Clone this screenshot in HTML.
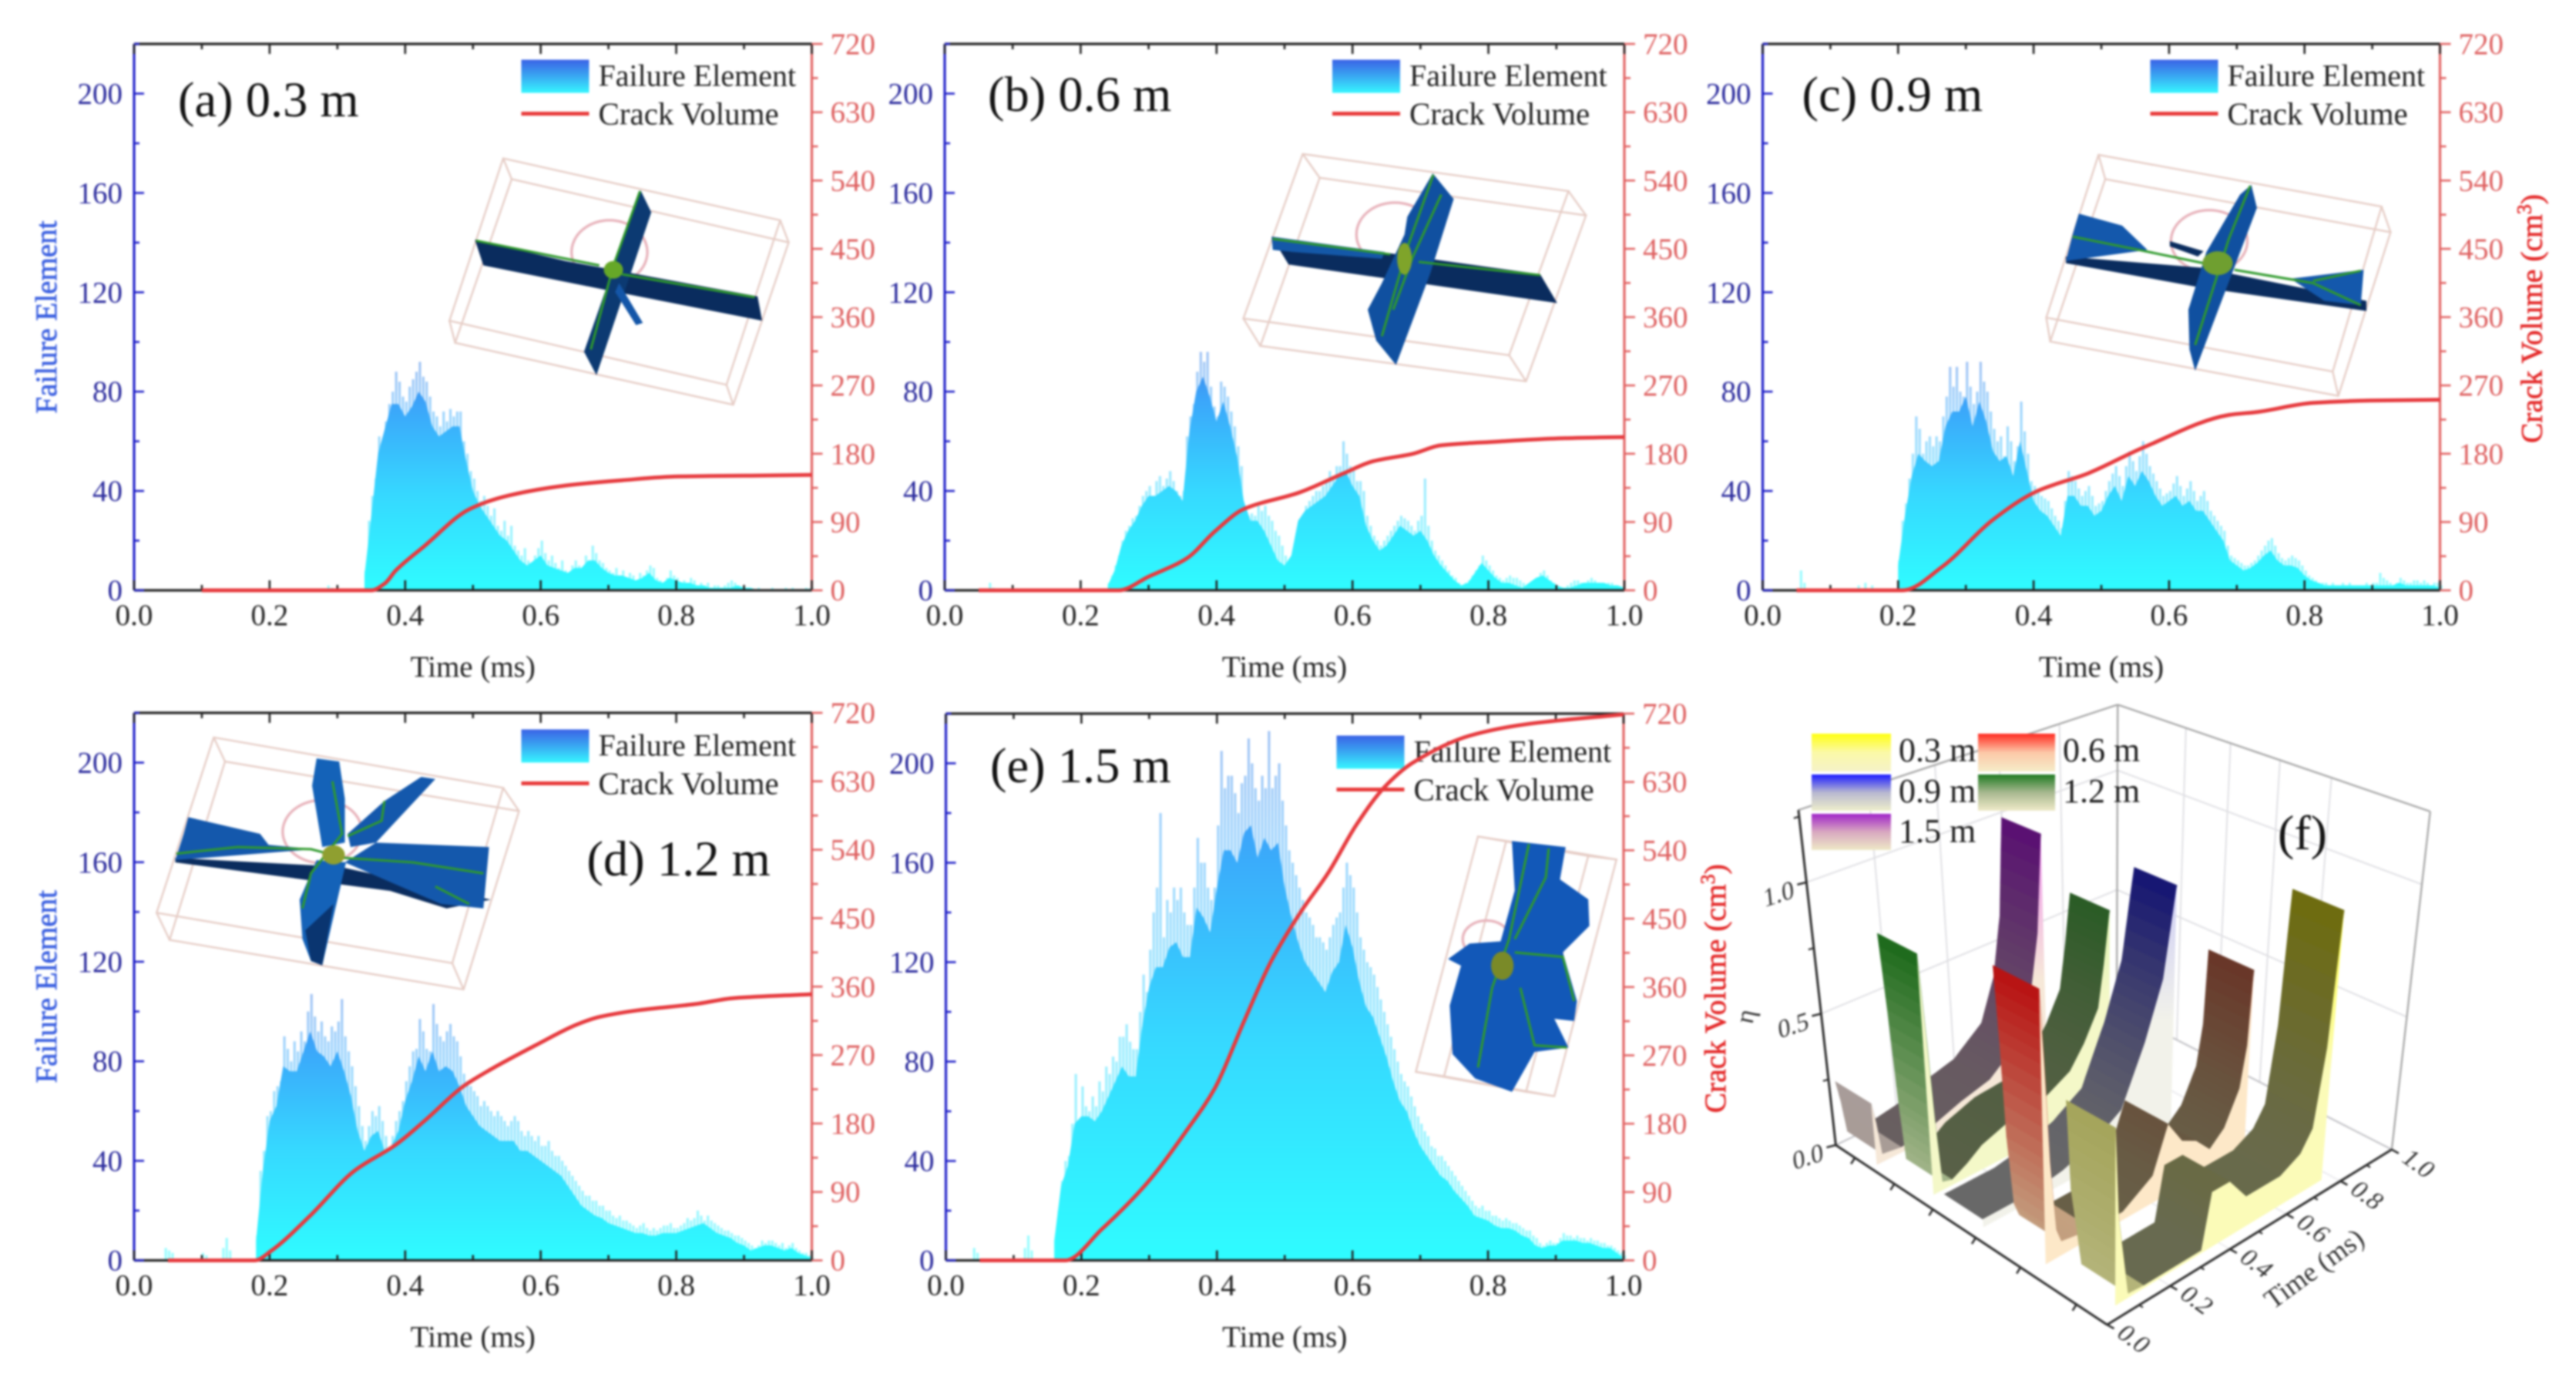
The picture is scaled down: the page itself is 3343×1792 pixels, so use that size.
<!DOCTYPE html>
<html lang="en">
<head>
<meta charset="utf-8">
<title>Failure element and crack volume versus time</title>
<style>
html,body{margin:0;padding:0;background:#fff;}
body{width:3343px;height:1792px;overflow:hidden;}
#figure{display:block;filter:blur(1.3px);font-family:"Liberation Serif",serif;}
.inset *{vector-effect:non-scaling-stroke;}
.wire{fill:none;stroke:#e6cdc6;stroke-width:2.4;}
.arc{fill:none;stroke:#e8b4bc;stroke-width:3.4;}
.vein{fill:none;stroke:#2f9a2c;stroke-width:3;}
</style>
</head>
<body>
<svg id="figure" xmlns="http://www.w3.org/2000/svg" width="3343" height="1792" viewBox="0 0 3343 1792">
<rect x="0" y="0" width="3343" height="1792" fill="#fff"/>
<defs>
<linearGradient id="legendFill" x1="0" y1="0" x2="0" y2="1"><stop offset="0" stop-color="#3a62e6"/><stop offset=".5" stop-color="#39a8f2"/><stop offset="1" stop-color="#36f6ff"/></linearGradient>
<linearGradient id="sw03" x1="0" y1="0" x2="0" y2="1"><stop offset="0" stop-color="#ffff10"/><stop offset=".5" stop-color="#fbf9a8"/><stop offset="1" stop-color="#f5f2c8"/></linearGradient>
<linearGradient id="sw06" x1="0" y1="0" x2="0" y2="1"><stop offset="0" stop-color="#ff2a20"/><stop offset=".5" stop-color="#fcc8a8"/><stop offset="1" stop-color="#f5ecc8"/></linearGradient>
<linearGradient id="sw09" x1="0" y1="0" x2="0" y2="1"><stop offset="0" stop-color="#1c1cff"/><stop offset=".5" stop-color="#b8b8d0"/><stop offset="1" stop-color="#eeeecb"/></linearGradient>
<linearGradient id="sw12" x1="0" y1="0" x2="0" y2="1"><stop offset="0" stop-color="#1f7a22"/><stop offset=".5" stop-color="#a8b890"/><stop offset="1" stop-color="#efeac8"/></linearGradient>
<linearGradient id="sw15" x1="0" y1="0" x2="0" y2="1"><stop offset="0" stop-color="#a024c8"/><stop offset=".5" stop-color="#d8a8c0"/><stop offset="1" stop-color="#eee8c6"/></linearGradient>
</defs>
<g id="panels"></g>

<!-- 3D crack model insets, drawn in crop coordinates -->
<g class="inset" transform="translate(0,0) scale(.7337,.574)">
  <g>
    <polygon class="wire" points="890,358 1380,498 1285,870 795,725"/>
    <polygon class="wire" points="905,405 1395,548 1297,915 805,775"/>
    <path class="wire" d="M890 358L905 405M1380 498L1395 548M1285 870L1297 915M795 725L805 775"/>
    <ellipse class="arc" cx="1078" cy="570" rx="67" ry="72"/>
  </g>
  <polygon fill="#0a2c5e" points="840,542 1000,590 1340,670 1348,725 1070,655 855,600"/>
  <polygon fill="#0c3a72" points="1133,430 1152,480 1055,848 1033,795"/>
  <polygon fill="#1456a8" points="1095,640 1137,730 1125,735 1088,660"/>
  <path class="vein" d="M842 544L1060 600M1100 620L1335 672M1132 432L1085 600L1045 790"/>
  <ellipse cx="1085" cy="610" rx="17" ry="20" fill="#66a828"/>
</g>
<g class="inset" transform="translate(1100,0) scale(.7337,.574)">
  <g>
    <polygon class="wire" points="805,348 1275,432 1170,803 700,720"/>
    <polygon class="wire" points="835,402 1306,487 1200,862 730,782"/>
    <path class="wire" d="M805 348L835 402M1275 432L1306 487M1170 803L1200 862M700 720L730 782"/>
    <ellipse class="arc" cx="968" cy="530" rx="68" ry="72"/>
  </g>
  <polygon fill="#0a2c5e" points="750,535 1000,580 1225,620 1255,685 1010,640 780,598"/>
  <polygon fill="#1458a8" points="750,535 950,570 945,585 790,570 752,565"/>
  <polygon fill="#1050a0" points="1035,392 1072,450 1030,620 970,825 935,770 920,700 945,640 985,530 990,490"/>
  <path class="vein" d="M752 540L960 575M1010 592L1225 622M1036 395L990 560L945 760M1050 440L1000 580L965 700"/>
  <ellipse cx="985" cy="585" rx="13" ry="36" fill="#7fa42a"/>
</g>
<g class="inset" transform="translate(2200,0) scale(.7289,.574)">
  <g>
    <polygon class="wire" points="718,350 1222,467 1135,840 625,718"/>
    <polygon class="wire" points="730,405 1238,525 1145,895 632,772"/>
    <path class="wire" d="M718 350L730 405M1222 467L1238 525M1135 840L1145 895M625 718L632 772"/>
    <ellipse class="arc" cx="915" cy="545" rx="68" ry="70"/>
  </g>
  <polygon fill="#0a2c5e" points="660,580 900,605 1195,680 1195,703 900,650 660,595"/>
  <polygon fill="#1458ac" points="683,483 760,510 805,565 660,590 672,530"/>
  <polygon fill="#1458ac" points="1060,630 1190,610 1185,690 1120,680"/>
  <polygon fill="#1050a0" points="990,418 1000,470 890,838 880,790 878,700 910,570 970,440"/>
  <polygon fill="#0a2c5e" points="845,545 905,568 895,580 845,557"/>
  <path class="vein" d="M672 535L790 565L905 595M960 610L1100 640L1185 690M1185 612L1100 635M988 420L950 540L890 780"/>
  <circle cx="930" cy="595" r="27" fill="#6f9f30"/>
</g>
<g class="inset" transform="translate(0,900) scale(.7337,.5688)">
  <g>
    <polygon class="wire" points="378,100 890,215 800,615 277,500"/>
    <polygon class="wire" points="398,155 918,268 820,675 300,562"/>
    <path class="wire" d="M378 100L398 155M890 215L918 268M800 615L820 675M277 500L300 562"/>
    <ellipse class="arc" cx="570" cy="315" rx="70" ry="72"/>
  </g>
  <polygon fill="#0a2c5e" points="310,375 600,395 868,470 790,490 690,450 600,435 310,385"/>
  <polygon fill="#1458ac" points="333,282 460,320 475,345 555,355 310,380 325,320"/>
  <polygon fill="#1458ac" points="665,340 865,350 855,490 780,480 610,385"/>
  <polygon fill="#1458ac" points="770,195 745,190 680,245 615,320 620,350 665,340"/>
  <polygon fill="#1462b8" points="560,148 600,155 610,240 610,340 570,350 552,210"/>
  <polygon fill="#1462b8" points="560,380 612,385 570,620 550,610 535,560 530,470"/>
  <polygon fill="#0a3570" points="590,480 570,620 550,610 540,540"/>
  <path class="vein" d="M312 365L420 350L550 355L610 375L730 385L855 410M588 200L605 320L550 410L535 490M615 325L675 290L680 245M770 440L830 480"/>
  <ellipse cx="590" cy="368" rx="20" ry="22" fill="#8f9f30"/>
</g>
<g class="inset" transform="translate(1100,880) scale(.7337,.574)">
  <g>
    <polygon class="wire" points="1115,358 1310,402 1200,935 1005,890"/>
    <polygon class="wire" points="1165,368 1360,410 1250,945 1055,900"/>
    <path class="wire" d="M1115 358L1165 368M1310 402L1360 410M1200 935L1250 945M1005 890L1055 900"/>
    <ellipse class="arc" cx="1130" cy="590" rx="42" ry="42"/>
  </g>
  <polygon fill="#1258b8" points="1175,368 1270,382 1260,455 1310,500 1312,560 1265,620 1290,730 1285,775 1250,770 1275,835 1215,845 1175,935 1110,905 1070,850 1065,740 1085,650 1062,635 1100,600 1155,595 1180,480"/>
  <path class="vein" d="M1205 375L1170 590L1140 700L1115 880M1240 385L1235 450L1180 590M1180 620L1265 630L1285 730M1190 700L1215 830L1272 835"/>
  <ellipse cx="1158" cy="650" rx="20" ry="32" fill="#7a8a28"/>
</g>

<!-- panel f legend -->
<g id="legendF" font-size="44" fill="#1c1c1c">
  <rect x="2351" y="952" width="103" height="49" fill="url(#sw03)"/>
  <text x="2464" y="988">0.3 m</text>
  <rect x="2567" y="952" width="100" height="49" fill="url(#sw06)"/>
  <text x="2677" y="988">0.6 m</text>
  <rect x="2351" y="1005" width="103" height="47" fill="url(#sw09)"/>
  <text x="2464" y="1041">0.9 m</text>
  <rect x="2567" y="1005" width="100" height="47" fill="url(#sw12)"/>
  <text x="2677" y="1041">1.2 m</text>
  <rect x="2351" y="1056" width="103" height="47" fill="url(#sw15)"/>
  <text x="2464" y="1093">1.5 m</text>
</g>
<text x="2956" y="1102" font-size="64" fill="#111">(f)</text>
</svg>

<script>
/* ---------- shared axis values ---------- */
const timeTicks = [0, 0.2, 0.4, 0.6, 0.8, 1.0];
const timeMinorTicks = [0.1, 0.3, 0.5, 0.7, 0.9];
const failureTicks = [0, 40, 80, 120, 160, 200];
const failureMinorTicks = [20, 60, 100, 140, 180, 220];
const volumeTicks = [0, 90, 180, 270, 360, 450, 540, 630, 720];
const volumeMinorTicks = [45, 135, 225, 315, 405, 495, 585, 675];
const BIN_PEAK = 0.005;
const BIN_BODY = 0.01;

/* ---------- panel (a) 0.3 m ---------- */
const startA = 0.34;
const peakA = [8,28,38,45,62,60,68,75,80,88,84,78,76,82,85,88,92,86,84,78,72,70,66,72,68,73,70,72,72,60,55,48,45,40,36,38,34,30,33,26,24,28,22,26,18,16,14,17,12,10,14,17,20,15,12,14,11,9,12,8,7,10,12,10,9,14,12,18,15,12,11,9,8,7,9,6,8,5,7,6,4,7,6,8,10,9,5,4,3,5,8,6,5,3,4,2,5,4,2,3,2,3,1,2,2,1,2,3,4,3,2,1,1,1,0,0,1,0,0,0,1,0,0,0,1,0,1,0,0,0,1,0,1];
const bodyA = [6,30,55,65,75,75,70,74,80,76,66,62,64,66,66,52,40,34,30,26,22,20,16,12,10,12,14,10,9,8,7,9,9,12,12,9,7,6,6,5,4,5,7,4,3,5,4,3,3,2,2,1,1,1,1,2,1,1,0,0,0,0,0,0,0,0,1];
const preTimeA = [0.285, 0.29];
const preValueA = [2, 1];
const crackTimeA = [0.1, 0.35, 0.37, 0.386, 0.428, 0.495, 0.553, 0.636, 0.72, 0.803, 0.9, 1.0];
const crackVolumeA = [0, 0, 9, 26, 58, 107, 125, 138, 145, 150, 151, 152];

/* ---------- panel (b) 0.6 m ---------- */
const startB = 0.24;
const peakB = [3,6,10,14,20,24,26,29,30,34,38,40,42,38,44,46,42,45,48,44,40,38,40,62,70,75,88,96,92,96,82,74,70,84,82,78,72,66,58,50,32,30,31,30,34,32,34,30,28,24,22,18,14,12,12,14,18,28,34,36,38,40,40,42,44,48,46,50,50,60,55,50,48,44,44,40,30,26,22,20,18,20,22,24,26,28,30,29,28,26,24,28,30,45,26,20,16,14,12,10,8,6,5,3,2,3,4,6,8,10,14,12,10,8,6,5,4,5,6,5,5,4,3,2,1,3,5,7,8,6,4,3,2,1,1,2,3,4,4,3,3,4,5,4,3,2,2,3,3,2,1,1,0];
const bodyB = [2,8,18,24,28,34,38,38,40,42,40,36,64,80,86,78,68,76,66,54,36,28,28,24,18,12,10,14,28,32,34,36,38,42,46,48,42,38,26,20,16,18,22,26,24,22,24,20,14,10,7,4,2,3,7,11,8,5,3,3,2,1,3,5,6,4,2,1,1,2,3,3,3,3,2,2,1];
const preTimeB = [0.065, 0.07];
const preValueB = [3, 1];
const crackTimeB = [0.05, 0.256, 0.3, 0.356, 0.398, 0.44, 0.522, 0.589, 0.63, 0.689, 0.73, 0.814, 0.897, 1.0];
const crackVolumeB = [0, 0, 18, 42, 78, 107, 129, 155, 170, 180, 191, 196, 200, 202];

/* ---------- panel (c) 0.9 m ---------- */
const startC = 0.2;
const peakC = [12,28,35,45,55,70,65,55,60,62,58,62,60,70,78,90,82,90,80,78,92,82,75,80,92,84,80,72,65,60,62,54,66,60,52,58,76,64,55,44,42,40,38,37,36,33,30,28,25,36,48,46,44,41,38,40,42,38,34,35,36,40,44,47,50,46,42,50,56,52,48,54,60,55,50,47,44,41,38,39,40,43,46,42,38,41,44,40,36,38,40,36,32,30,28,26,24,18,14,13,12,11,10,10,11,12,14,16,18,20,21,18,15,13,12,13,14,13,12,10,8,6,5,4,3,3,3,2,3,2,2,3,2,3,2,2,2,2,3,2,3,3,7,5,4,3,2,3,5,4,3,3,4,4,3,4,3,2,3,3,2];
const bodyC = [10,30,46,55,52,50,52,66,72,72,78,66,76,68,56,52,54,46,60,48,36,32,30,26,22,38,38,34,34,30,32,38,42,36,46,42,48,44,38,34,36,38,34,36,32,32,28,24,20,12,10,8,9,11,14,16,12,10,10,9,6,4,3,2,2,2,2,2,2,2,2,2,2,2,3,2,2,2,2,2,1];
const preTimeC = [0.055, 0.06, 0.14, 0.15, 0.16];
const preValueC = [8, 3, 2, 3, 2];
const crackTimeC = [0.05, 0.207, 0.265, 0.34, 0.406, 0.48, 0.564, 0.688, 0.73, 0.813, 0.896, 1.0];
const crackVolumeC = [0, 0, 31, 93, 131, 154, 189, 231, 235, 247, 250, 251];

/* ---------- panel (d) 1.2 m ---------- */
const startD = 0.18;
const peakD = [10,36,44,58,60,68,70,72,90,85,80,88,84,92,88,100,107,98,92,96,90,88,94,92,96,105,90,84,78,70,62,54,48,54,60,58,62,56,50,44,50,56,60,64,72,78,84,85,97,92,85,84,103,95,90,88,92,95,90,88,82,75,72,70,68,66,62,64,62,60,58,60,58,56,54,56,58,56,52,50,52,50,48,50,46,46,48,44,42,42,40,38,36,34,32,30,28,26,26,24,24,22,22,20,20,18,17,18,16,16,15,14,13,14,15,13,12,13,12,13,14,14,15,13,13,14,15,17,16,17,20,18,16,18,16,15,14,13,12,12,11,10,10,9,8,7,6,5,6,8,7,8,8,7,6,7,5,6,7,5,4,3,3,2,1];
const bodyD = [8,36,56,62,78,76,76,84,92,84,82,78,84,76,66,52,44,50,52,44,46,52,64,72,82,76,84,76,78,76,70,62,58,54,52,50,48,48,48,44,44,42,40,38,36,34,30,26,22,20,18,17,15,14,13,12,11,11,10,10,11,11,11,12,13,14,15,13,11,10,9,7,6,4,5,6,6,5,4,5,3,2,1];
const preTimeD = [0.045, 0.05, 0.055, 0.1, 0.105, 0.13, 0.135, 0.14];
const preValueD = [5, 4, 3, 3, 2, 5, 9, 4];
const crackTimeD = [0.05, 0.178, 0.203, 0.26, 0.324, 0.386, 0.428, 0.486, 0.528, 0.595, 0.653, 0.686, 0.745, 0.828, 0.886, 1.0];
const crackVolumeD = [0, 0, 13, 59, 117, 152, 183, 229, 252, 284, 310, 320, 329, 337, 345, 350];

/* ---------- panel (e) 1.5 m ---------- */
const startE = 0.16;
const peakE = [8,20,32,40,42,55,75,50,70,62,60,66,62,72,68,78,75,82,80,90,90,95,88,85,85,100,115,108,125,140,150,180,130,145,140,150,145,150,140,135,135,150,170,160,160,150,145,150,175,205,190,195,195,188,180,192,195,210,200,190,185,195,190,213,190,195,200,185,175,165,160,155,150,145,140,138,135,130,130,128,125,130,135,138,140,150,160,155,150,140,130,125,120,118,115,110,105,100,95,90,85,80,75,72,70,66,62,58,55,52,50,46,45,42,42,40,38,36,34,32,30,28,26,24,22,21,22,20,20,18,18,17,16,17,16,15,15,14,13,12,12,10,9,7,6,7,8,7,7,9,11,10,10,9,10,9,9,8,9,8,8,7,7,6,6,5,4,3,2];
const bodyE = [8,30,38,55,58,58,56,60,66,72,78,74,74,95,110,118,118,126,128,122,122,142,138,132,150,165,165,160,172,175,162,170,165,168,150,138,128,120,116,112,108,116,120,135,126,112,102,98,90,82,72,64,60,52,46,42,38,34,32,28,25,22,18,17,16,14,13,13,12,10,9,6,5,6,6,8,8,8,7,7,6,5,5,3,1];
const preTimeE = [0.04, 0.045, 0.115, 0.12, 0.125];
const preValueE = [5, 3, 5, 10, 4];
const crackTimeE = [0.05, 0.176, 0.23, 0.297, 0.356, 0.397, 0.44, 0.48, 0.523, 0.564, 0.606, 0.648, 0.69, 0.773, 0.856, 1.0];
const crackVolumeE = [0, 0, 41, 102, 172, 227, 315, 394, 458, 510, 574, 624, 656, 691, 706, 719];

/* ---------- panel (f) series ---------- */
const seriesNames = ["1.5 m", "1.2 m", "0.9 m", "0.6 m", "0.3 m"];
const etaTime15 = [0.02, 0.03, 0.04, 0.1, 0.2, 0.3, 0.4, 0.5, 0.55, 0.58, 0.6];
const eta15 = [0.23, 0.15, 0.03, 0.02, 0.04, 0.08, 0.11, 0.2, 0.36, 0.59, 0.975];
const etaTime12 = [0.04, 0.05, 0.06, 0.07, 0.1, 0.15, 0.2, 0.3, 0.4, 0.5, 0.55, 0.6, 0.62, 0.64];
const eta12 = [0.89, 0.6, 0.25, 0.03, 0.02, 0.05, 0.09, 0.13, 0.14, 0.2, 0.28, 0.39, 0.55, 0.75];
const etaTime09 = [0.04, 0.1, 0.2, 0.3, 0.4, 0.5, 0.58, 0.64, 0.68];
const eta09 = [0.03, 0.03, 0.03, 0.05, 0.09, 0.16, 0.37, 0.58, 0.92];
const etaTime06 = [0.05, 0.06, 0.07, 0.085, 0.1, 0.2, 0.3, 0.4, 0.45, 0.5, 0.55, 0.6, 0.65, 0.7, 0.72, 0.73];
const eta06 = [0.98, 0.7, 0.35, 0.1, 0.05, 0.03, 0.03, 0.1, 0.26, 0.17, 0.14, 0.08, 0.13, 0.25, 0.4, 0.68];
const etaTime03 = [0.06, 0.07, 0.1, 0.15, 0.34, 0.37, 0.43, 0.49, 0.61, 0.68, 0.72, 0.75, 0.77];
const eta03 = [0.62, 0.3, 0.015, 0.01, 0.01, 0.2, 0.2, 0.11, 0.11, 0.15, 0.22, 0.5, 1.0];
const ribbonStart = [0.0, 0.203, 0.388, 0.595, 0.811];
const ribbonEnd = [0.144, 0.344, 0.531, 0.742, 0.964];
const etaTicks = [0, 0.5, 1.0];
const etaMinorTicks = [0.25, 0.75, 1.25];
const depthTicks = [0.08, 0.24, 0.39, 0.55, 0.71, 0.9];

/* ---------- drawing ---------- */
const SVGNS = 'http://www.w3.org/2000/svg';
function make(parent, tag, attrs, text) {
  const el = document.createElementNS(SVGNS, tag);
  for (const k in attrs) el.setAttribute(k, attrs[k]);
  if (text !== undefined) el.textContent = text;
  parent.appendChild(el);
  return el;
}
function fmt(v) { return v.toFixed(1); }
function smoothPath(pts) {
  const n = pts.length;
  const slope = [];
  for (let i = 0; i < n - 1; i++) slope.push((pts[i + 1][1] - pts[i][1]) / (pts[i + 1][0] - pts[i][0]));
  const m = [slope[0]];
  for (let i = 1; i < n - 1; i++) {
    const a = slope[i - 1], b = slope[i];
    m.push(a * b <= 0 ? 0 : 2 * a * b / (a + b));
  }
  m.push(slope[n - 2]);
  let d = 'M' + pts[0][0].toFixed(1) + ' ' + pts[0][1].toFixed(1);
  for (let i = 0; i < n - 1; i++) {
    const h = pts[i + 1][0] - pts[i][0];
    d += 'C' + (pts[i][0] + h / 3).toFixed(1) + ' ' + (pts[i][1] + m[i] * h / 3).toFixed(1) + ' ' +
      (pts[i + 1][0] - h / 3).toFixed(1) + ' ' + (pts[i + 1][1] - m[i + 1] * h / 3).toFixed(1) + ' ' +
      pts[i + 1][0].toFixed(1) + ' ' + pts[i + 1][1].toFixed(1);
  }
  return d;
}

const panelLayouts = [
  {key:'a', left:174, right:1053.5, top:57, bottom:766, title:'(a) 0.3 m', titleX:231, titleY:151, legendDx:502.5, legendDy:20.5, leftTitle:true, rightTitle:false,
   start:startA, peak:peakA, body:bodyA, preT:preTimeA, preV:preValueA, crackT:crackTimeA, crackV:crackVolumeA},
  {key:'b', left:1226, right:2108, top:57, bottom:766, title:'(b) 0.6 m', titleX:1282, titleY:144, legendDx:503, legendDy:20.5, leftTitle:false, rightTitle:false,
   start:startB, peak:peakB, body:bodyB, preT:preTimeB, preV:preValueB, crackT:crackTimeB, crackV:crackVolumeB},
  {key:'c', left:2287.5, right:3166.5, top:57, bottom:766, title:'(c) 0.9 m', titleX:2338.5, titleY:144, legendDx:503, legendDy:20.5, leftTitle:false, rightTitle:true,
   start:startC, peak:peakC, body:bodyC, preT:preTimeC, preV:preValueC, crackT:crackTimeC, crackV:crackVolumeC},
  {key:'d', left:174, right:1053.5, top:925, bottom:1635.5, title:'(d) 1.2 m', titleX:761.5, titleY:1136, legendDx:502.5, legendDy:21.5, leftTitle:true, rightTitle:false,
   start:startD, peak:peakD, body:bodyD, preT:preTimeD, preV:preValueD, crackT:crackTimeD, crackV:crackVolumeD},
  {key:'e', left:1227.5, right:2107, top:926, bottom:1635.5, title:'(e) 1.5 m', titleX:1285, titleY:1015, legendDx:507, legendDy:28.5, leftTitle:false, rightTitle:true,
   start:startE, peak:peakE, body:bodyE, preT:preTimeE, preV:preValueE, crackT:crackTimeE, crackV:crackVolumeE}
];

const root = document.getElementById('panels');
const defs = document.querySelector('#figure defs');

panelLayouts.forEach(function (p) {
  const sx = function (t) { return p.left + (p.right - p.left) * t; };
  const sy = function (v) { return p.bottom - (p.bottom - p.top) * v / 220; };
  const sv = function (v) { return p.bottom - (p.bottom - p.top) * v / 720; };
  const g = make(root, 'g', {});
  
  

  const gradId = 'histFill' + p.key;
  const maxPeak = Math.max.apply(null, p.peak);
  const grad = make(defs, 'linearGradient', {id: gradId, gradientUnits: 'userSpaceOnUse', x1: 0, x2: 0, y1: sy(0), y2: sy(maxPeak)});
  make(grad, 'stop', {offset: 0, 'stop-color': '#2ffcff'});
  make(grad, 'stop', {offset: 0.42, 'stop-color': '#36d8ff'});
  make(grad, 'stop', {offset: 0.8, 'stop-color': '#3ba6fa'});
  make(grad, 'stop', {offset: 1, 'stop-color': '#3f84e8'});

  let dPeak = '';
  const barW = (p.right - p.left) * BIN_PEAK * 0.7;
  p.peak.forEach(function (v, i) {
    if (v <= 0) return;
    const x = sx(p.start + i * BIN_PEAK);
    dPeak += 'M' + x.toFixed(1) + ' ' + sy(0).toFixed(1) + 'V' + sy(v).toFixed(1) + 'h' + barW.toFixed(1) + 'V' + sy(0).toFixed(1) + 'Z';
  });
  p.preT.forEach(function (t, i) {
    dPeak += 'M' + sx(t).toFixed(1) + ' ' + sy(0).toFixed(1) + 'V' + sy(p.preV[i]).toFixed(1) + 'h' + barW.toFixed(1) + 'V' + sy(0).toFixed(1) + 'Z';
  });
  const spikes = make(g, 'path', {d: dPeak, fill: 'url(#' + gradId + ')', opacity: 0.5});
  
  

  let dBody = 'M' + sx(p.start).toFixed(1) + ' ' + sy(0).toFixed(1);
  p.body.forEach(function (v, i) {
    dBody += 'L' + sx(Math.min(1, p.start + i * BIN_BODY)).toFixed(1) + ' ' + sy(v).toFixed(1);
  });
  dBody += 'L' + sx(Math.min(1, p.start + (p.body.length - 1) * BIN_BODY)).toFixed(1) + ' ' + sy(0).toFixed(1) + 'Z';
  const body = make(g, 'path', {d: dBody, fill: 'url(#' + gradId + ')'});
  
  

  /* axes */
  const axes = make(g, 'g', {});
  
  
  const spine = function (x1, y1, x2, y2, color, name) {
    const l = make(axes, 'line', {x1: x1, y1: y1, x2: x2, y2: y2, stroke: color, 'stroke-width': 3.2});
    
    
  };
  spine(p.left, p.top, p.right, p.top, '#222', 'top-axis-line');
  spine(p.left, p.bottom, p.right, p.bottom, '#222', 'x-axis-line');
  spine(p.left, p.top, p.left, p.bottom, '#2222c8', 'left-y-axis-line');
  spine(p.right, p.top, p.right, p.bottom, '#e26464', 'right-y-axis-line');
  const tick = function (x1, y1, x2, y2, color, name) {
    const l = make(axes, 'line', {x1: x1, y1: y1, x2: x2, y2: y2, stroke: color, 'stroke-width': 2.6});
    
    
  };
  timeTicks.forEach(function (t) {
    tick(sx(t), p.bottom, sx(t), p.bottom - 13, '#222', 'x-tick');
    tick(sx(t), p.top, sx(t), p.top + 13, '#222', 'top-tick');
    const lab = make(axes, 'text', {x: sx(t), y: p.bottom + 45, 'font-size': 39, 'text-anchor': 'middle', fill: '#222'}, fmt(t));
    
    
  });
  timeMinorTicks.forEach(function (t) {
    tick(sx(t), p.bottom, sx(t), p.bottom - 7, '#222', 'x-minor-tick');
    tick(sx(t), p.top, sx(t), p.top + 7, '#222', 'top-minor-tick');
  });
  failureTicks.forEach(function (v) {
    tick(p.left, sy(v), p.left + 13, sy(v), '#2222c8', 'left-tick');
    const lab = make(axes, 'text', {x: p.left - 15, y: sy(v) + 13, 'font-size': 39, 'text-anchor': 'end', fill: '#2a2a9c'}, String(v));
    
    
  });
  failureMinorTicks.forEach(function (v) {
    tick(p.left, sy(v), p.left + 7, sy(v), '#2222c8', 'left-minor-tick');
  });
  volumeTicks.forEach(function (v) {
    tick(p.right, sv(v), p.right + 14, sv(v), '#e26464', 'right-tick');
    const lab = make(axes, 'text', {x: p.right + 24, y: sv(v) + 13, 'font-size': 39, fill: '#de6060'}, String(v));
    
    
  });
  volumeMinorTicks.forEach(function (v) {
    tick(p.right, sv(v), p.right + 8, sv(v), '#e26464', 'right-minor-tick');
  });

  const xTitle = make(g, 'text', {x: (p.left + p.right) / 2, y: p.bottom + 112, 'font-size': 39, 'text-anchor': 'middle', fill: '#222'}, 'Time (ms)');
  
  
  if (p.leftTitle) {
    const cy = (p.top + p.bottom) / 2 + 0;
    const yTitle = make(g, 'text', {transform: 'translate(73,' + cy + ') rotate(-90)', 'font-size': 39, 'text-anchor': 'middle', fill: '#3a5fe0', stroke: '#3a5fe0', 'stroke-width': 0.7}, 'Failure Element');
    
    
  }
  if (p.rightTitle) {
    const cy = (p.top + p.bottom) / 2 + 2;
    const rTitle = make(g, 'text', {transform: 'translate(' + (p.right + 132) + ',' + cy + ') rotate(-90)', 'font-size': 39.5, 'text-anchor': 'middle', fill: '#e42a2a', stroke: '#e42a2a', 'stroke-width': 0.7}, 'Crack Volume (cm');
    make(rTitle, 'tspan', {dy: -14, 'font-size': 26}, '3');
    make(rTitle, 'tspan', {dy: 14}, ')');
    
    
  }

  /* legend */
  const lx = p.left + p.legendDx, ly = p.top + p.legendDy;
  const legend = make(g, 'g', {});
  
  
  const swatch = make(legend, 'rect', {x: lx, y: ly, width: 88, height: 43, fill: 'url(#legendFill)'});
  
  
  const l1 = make(legend, 'text', {x: lx + 100, y: ly + 34, 'font-size': 40, fill: '#222'}, 'Failure Element');
  
  
  const swLine = make(legend, 'line', {x1: lx, x2: lx + 88, y1: ly + 70, y2: ly + 70, stroke: '#e83a3a', 'stroke-width': 5});
  
  
  const l2 = make(legend, 'text', {x: lx + 100, y: ly + 84, 'font-size': 41, fill: '#222'}, 'Crack Volume');
  
  

  /* crack curve */
  const pts = p.crackT.map(function (t, i) { return [sx(t), sv(p.crackV[i])]; });
  const curve = make(g, 'path', {d: smoothPath(pts), fill: 'none', stroke: '#e63a3e', 'stroke-width': 5, 'stroke-linejoin': 'round'});
  
  

  const title = make(g, 'text', {x: p.titleX, y: p.titleY, 'font-size': 64.5, fill: '#111'}, p.title);
  
  
});

/* ---------- panel (f): perspective axes ---------- */
const cornerL = [2382.4, 1485.9], cornerF = [2734.5, 1719], cornerR = [3103.9, 1491.6], cornerB = [2747, 1309.6];
const APEX_X = 2738, SLANT = 0.107;
const homography = (function () {
  const x0 = cornerL[0], y0 = cornerL[1], x1 = cornerF[0], y1 = cornerF[1], x2 = cornerR[0], y2 = cornerR[1], x3 = cornerB[0], y3 = cornerB[1];
  const sxx = x0 - x1 + x2 - x3, syy = y0 - y1 + y2 - y3;
  const dx1 = x1 - x2, dx2 = x3 - x2, dy1 = y1 - y2, dy2 = y3 - y2;
  const den = dx1 * dy2 - dx2 * dy1;
  const gg = (sxx * dy2 - dx2 * syy) / den, hh = (dx1 * syy - sxx * dy1) / den;
  return {a: x1 - x0 + gg * x1, b: x3 - x0 + hh * x3, c: x0, d: y1 - y0 + gg * y1, e: y3 - y0 + hh * y3, f: y0, g: gg, h: hh};
})();
function floorPoint(s, t) {
  const H = homography, w = H.g * s + H.h * t + 1;
  return [(H.a * s + H.b * t + H.c) / w, (H.d * s + H.e * t + H.f) / w];
}
function project(s, t, z) {
  const f = floorPoint(s, t);
  const h = 341 + 34 * s - 31 * t;
  return [f[0] + (f[0] - APEX_X) * SLANT * z, f[1] - h * z];
}
function ptsAttr(list) { return list.map(function (q) { return q[0].toFixed(1) + ',' + q[1].toFixed(1); }).join(' '); }
function hexMix(c1, c2, a) {
  a = Math.max(0, Math.min(1, a));
  const n1 = parseInt(c1.slice(1), 16), n2 = parseInt(c2.slice(1), 16);
  const ch = function (sh) { return Math.round(((n1 >> sh) & 255) * (1 - a) + ((n2 >> sh) & 255) * a); };
  return 'rgb(' + ch(16) + ',' + ch(8) + ',' + ch(0) + ')';
}

const Z_TOP = 1.275;
const fig = document.getElementById('figure');
const chartF = document.createElementNS(SVGNS, 'g');


fig.insertBefore(chartF, document.getElementById('legendF'));

/* grid */
const gridF = make(chartF, 'g', {fill: 'none'});


function gridLine(a, b, color, width, name) {
  const l = make(gridF, 'line', {x1: a[0], y1: a[1], x2: b[0], y2: b[1], stroke: color, 'stroke-width': width});
  
  
}
etaTicks.slice(1).forEach(function (z) {
  gridLine(project(0, 0, z), project(0, 1, z), '#e0e0e4', 2, 'eta-grid-left-wall');
  gridLine(project(0, 1, z), project(1, 1, z), '#e0e0e4', 2, 'eta-grid-right-wall');
});
timeTicks.slice(1, 5).forEach(function (t) {
  gridLine(project(0, t, 0), project(0, t, Z_TOP), '#e0e0e4', 2, 'time-grid-left-wall');
  gridLine(project(0, t, 0), project(1, t, 0), '#ececef', 2, 'time-grid-floor');
});
depthTicks.slice(1, 5).forEach(function (s) {
  gridLine(project(s, 1, 0), project(s, 1, Z_TOP), '#e0e0e4', 2, 'series-grid-right-wall');
});
gridLine(project(0, 0, Z_TOP), project(0, 1, Z_TOP), '#a9a9a9', 2.4, 'box-top-left-edge');
gridLine(project(0, 1, Z_TOP), project(1, 1, Z_TOP), '#a9a9a9', 2.4, 'box-top-right-edge');
gridLine(project(0, 1, 0), project(0, 1, Z_TOP), '#a9a9a9', 2.4, 'box-back-edge');
gridLine(project(1, 1, 0), project(1, 1, Z_TOP), '#a9a9a9', 2.4, 'box-right-edge');
gridLine(project(0, 0, 0), project(0, 1, 0), '#c4c4c8', 2.2, 'box-floor-left-edge');
gridLine(project(0, 1, 0), project(1, 1, 0), '#c4c4c8', 2.2, 'box-floor-right-edge');

/* ribbons, far to near */
const ribbonStyles = [
  {high:'#5a1072', low:'#686060', frontHigh:'#a89aa4', frontLow:'#a89c96', wallLow:'#f6e8d8', wallHigh:'#f090f0', key:'1-5m'},
  {high:'#1a5a1a', low:'#5a6048', frontHigh:'#126412', frontLow:'#a6b68c', wallLow:'#f4f8c8', wallHigh:'#d0f0a0', key:'1-2m'},
  {high:'#101074', low:'#6a6a68', frontHigh:'#707070', frontLow:'#76766c', wallLow:'#f2f2ea', wallHigh:'#c8c8f8', key:'0-9m'},
  {high:'#6a2018', low:'#686048', frontHigh:'#b81414', frontLow:'#c4a684', wallLow:'#fde8c8', wallHigh:'#f8a090', key:'0-6m'},
  {high:'#6e6c10', low:'#686a50', frontHigh:'#9c9c4a', frontLow:'#b4b47a', wallLow:'#fbfbb8', wallHigh:'#ffff40', key:'0-3m'}
];
const ribbonTimes = [etaTime15, etaTime12, etaTime09, etaTime06, etaTime03];
const ribbonValues = [eta15, eta12, eta09, eta06, eta03];

ribbonTimes.forEach(function (times, r) {
  const values = ribbonValues[r];
  const style = ribbonStyles[r];
  const s0 = ribbonStart[r], s1 = ribbonEnd[r];
  const group = make(chartF, 'g', {});
  
  
  const lowestIndex = values.indexOf(Math.min.apply(null, values));
  for (let i = times.length - 2; i >= 0; i--) {
    const steps = 6;
    const falling = values[i + 1] < values[i] && i < lowestIndex + 1 && times[i] < 0.2;
    for (let k = steps - 1; k >= 0; k--) {
      const a = k / steps, b = (k + 1) / steps;
      const ta = times[i] + (times[i + 1] - times[i]) * a, tb = times[i] + (times[i + 1] - times[i]) * b;
      const za = values[i] + (values[i + 1] - values[i]) * a, zb = values[i] + (values[i + 1] - values[i]) * b;
      const mid = (za + zb) / 2;
      const col = falling ? hexMix(style.frontLow, style.frontHigh, mid * 1.05) : hexMix(style.low, style.high, Math.pow(mid, 1.15) * 1.05);
      const quad = make(group, 'polygon', {points: ptsAttr([project(s0, ta, za), project(s1, ta, za), project(s1, tb, zb), project(s0, tb, zb)]), fill: col, stroke: col, 'stroke-width': 0.8});
      
      
    }
  }
  const lastT = times[times.length - 1];
  const wallPts = [project(s1, times[0], 0)];
  times.forEach(function (t, i) { wallPts.push(project(s1, t, values[i])); });
  wallPts.push(project(s1, lastT, 0));
  const wallGradId = 'wallFill' + r;
  const wallGrad = make(defs, 'linearGradient', {id: wallGradId, gradientUnits: 'userSpaceOnUse', x1: 0, x2: 0, y1: project(s1, lastT, 0)[1], y2: project(s1, lastT, 1)[1]});
  make(wallGrad, 'stop', {offset: 0, 'stop-color': style.wallLow});
  make(wallGrad, 'stop', {offset: 0.4, 'stop-color': style.wallLow});
  make(wallGrad, 'stop', {offset: 1, 'stop-color': style.wallHigh});
  const wall = make(group, 'polygon', {points: ptsAttr(wallPts), fill: 'url(#' + wallGradId + ')'});
  
  
});

/* axes in front */
const axesF = make(chartF, 'g', {});


function axisLine(a, b, width, name) {
  const l = make(axesF, 'line', {x1: a[0], y1: a[1], x2: b[0], y2: b[1], stroke: '#2c2c2c', 'stroke-width': width});
  
  
}
axisLine(project(0, 0, 0), project(0, 0, Z_TOP), 3, 'eta-axis-line');
axisLine(project(0, 0, 0), project(1, 0, 0), 3, 'series-axis-line');
axisLine(project(1, 0, 0), project(1, 1, 0), 3, 'time-axis-line');
etaTicks.forEach(function (z) {
  const q = project(0, 0, z);
  axisLine(q, [q[0] - 12, q[1] + 3], 2.6, 'eta-tick');
  const lab = make(axesF, 'text', {transform: 'translate(' + (q[0] - 35).toFixed(1) + ',' + (q[1] + 26).toFixed(1) + ') rotate(-18) skewX(-12)', 'font-size': 33, 'text-anchor': 'middle', fill: '#333'}, fmt(z));
  
  
});
etaMinorTicks.forEach(function (z) {
  const q = project(0, 0, z);
  axisLine(q, [q[0] - 7, q[1] + 2], 2.2, 'eta-minor-tick');
});
depthTicks.forEach(function (s) {
  const q = project(s, 0, 0);
  axisLine(q, [q[0] - 5, q[1] + 8], 2.6, 'series-tick');
});
timeTicks.forEach(function (t) {
  const q = project(1, t, 0);
  axisLine(q, [q[0] + 9, q[1] + 5], 2.6, 'time-tick');
  const lab = make(axesF, 'text', {transform: 'translate(' + (q[0] + 27).toFixed(1) + ',' + (q[1] + 26).toFixed(1) + ') rotate(36) skewX(-10)', 'font-size': 33, 'text-anchor': 'middle', fill: '#333'}, fmt(t));
  
  
});
timeMinorTicks.forEach(function (t) {
  const q = project(1, t, 0);
  axisLine(q, [q[0] + 5, q[1] + 3], 2.2, 'time-minor-tick');
});
const timeTitleF = make(axesF, 'text', {transform: 'translate(3010,1656) rotate(-36)', 'font-size': 36, 'text-anchor': 'middle', fill: '#333'}, 'Time (ms)');


const etaTitleF = make(axesF, 'text', {transform: 'translate(2276,1321) rotate(-78)', 'font-size': 34, 'text-anchor': 'middle', fill: '#333'}, '\u03B7');


</script>
</body>
</html>
